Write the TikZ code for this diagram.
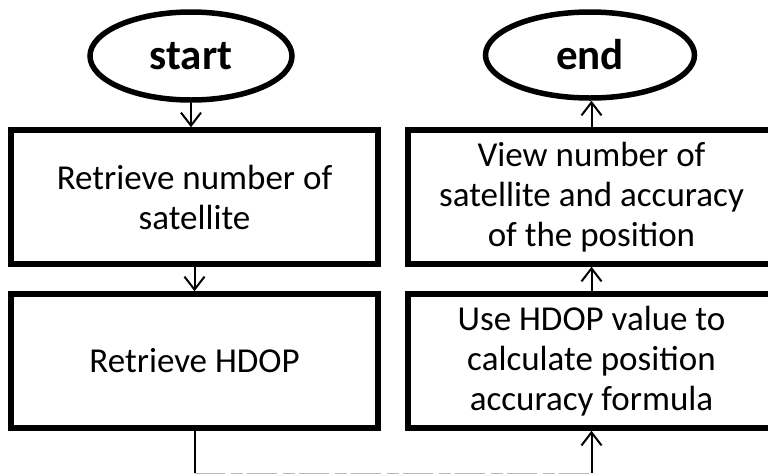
\documentclass[tikz,border=0pt]{standalone}
\usepackage{fontspec}
\setmainfont{Carlito}
\usetikzlibrary{arrows.meta,shapes.geometric}
\begin{document}
\begin{tikzpicture}[x=1pt,y=-1pt,
  stepbox/.style={draw, line width=5.5pt, minimum width=367pt, minimum height=134pt,
    inner sep=0pt, align=center, font=\fontsize{35}{40}\selectfont},
  terminal/.style={draw, ellipse, line width=5.5pt, inner sep=0pt,
    font=\bfseries\fontsize{43}{50}\selectfont},
  conn/.style={line width=2pt, -{Straight Barb[length=13pt,width=20pt,line width=2pt]}},
  plainline/.style={line width=2pt},
  faintline/.style={line width=1pt, black!28, dash pattern=on 30pt off 6pt on 12pt off 4pt}]
  \clip (0,0) rectangle (768,475);

  % terminals
  \node[terminal, minimum width=202pt, minimum height=88pt] (start) at (191,56) {start};
  \node[terminal, minimum width=209pt, minimum height=86pt] (endn) at (590,55) {end};

  % process steps
  \node[stepbox] (ret1) at (194.5,197) {Retrieve number of\\satellite};
  \node[stepbox] (ret2) at (194.5,361) {Retrieve HDOP};
  \node[stepbox] (view) at (591.5,197) {View number of\\satellite and accuracy\\of the position};
  \node[stepbox] (calc) at (591.5,361) {Use HDOP value to\\calculate position\\accuracy formula};

  % flow
  \draw[conn] (start.south) -- (start.south |- ret1.north);
  \draw[conn] (ret1.south) -- (ret2.north);
  \coordinate (bl) at (ret2.south |- 0,473);
  \coordinate (br) at (calc.south |- 0,473);
  \draw[plainline] (ret2.south) -- (bl);
  \draw[faintline] (bl) -- (br);
  \draw[conn] (br) -- (calc.south);
  \draw[conn] (calc.north) -- (view.south);
  \draw[conn] (view.north) -- (view.north |- endn.south);
\end{tikzpicture}
\end{document}
